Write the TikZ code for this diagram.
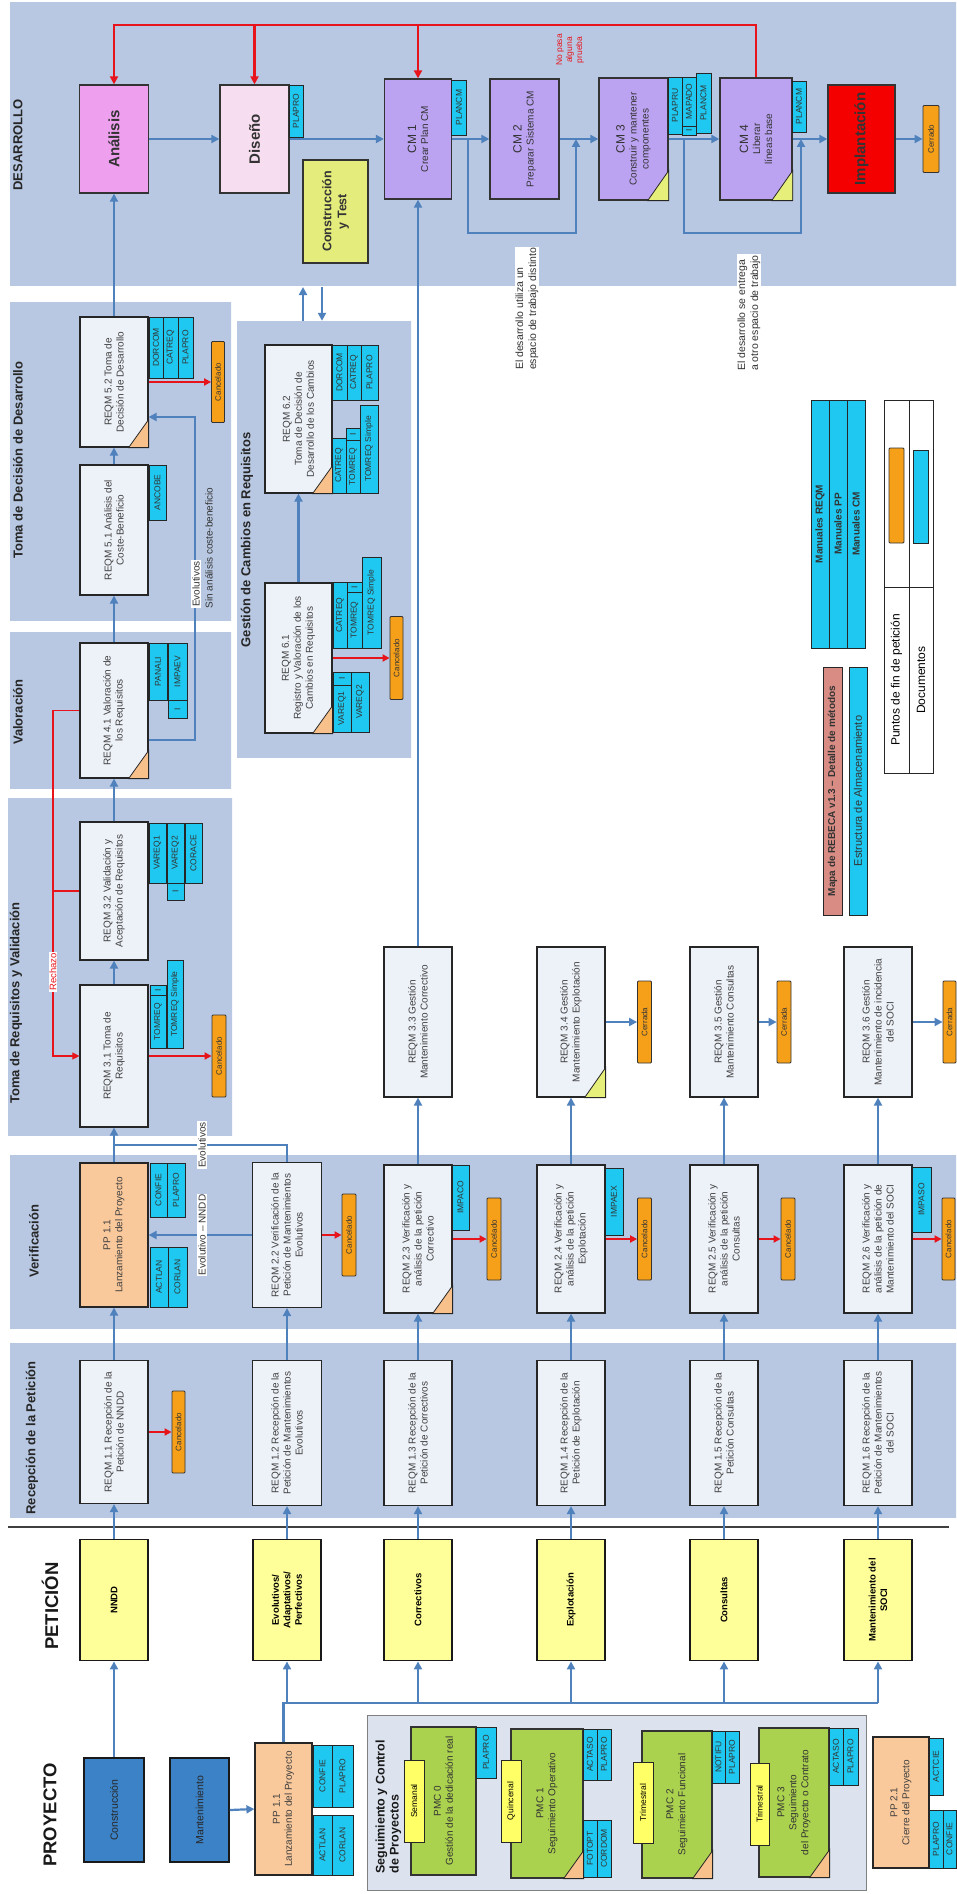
\documentclass[tikz,border=0pt]{standalone}
\usepackage{fontspec}
\setmainfont{Liberation Sans}
\usetikzlibrary{arrows.meta}

\definecolor{bandfill}{HTML}{C7D4EA}
\definecolor{bandedge}{HTML}{B8C8E2}
\definecolor{bandmid}{HTML}{D8E1F0}
\definecolor{panelfill}{HTML}{DCE3EF}
\definecolor{reqfill}{HTML}{EDF1F8}
\definecolor{doccyan}{HTML}{1EC8F0}
\definecolor{endorange}{HTML}{F6A01A}
\definecolor{flowblue}{HTML}{4F81BD}
\definecolor{redline}{HTML}{E8141C}
\definecolor{petfill}{HTML}{FFFF99}
\definecolor{tagfill}{HTML}{FFFF66}
\definecolor{anafill}{HTML}{EE9FEE}
\definecolor{disfill}{HTML}{F7DDF0}
\definecolor{ctfill}{HTML}{E4EC7C}
\definecolor{cmfill}{HTML}{BBA3F2}
\definecolor{impfill}{HTML}{F50000}
\definecolor{ppfill}{HTML}{F9C89B}
\definecolor{pmcfill}{HTML}{ABD24E}
\definecolor{trifill}{HTML}{F8C08A}
\definecolor{trilime}{HTML}{E6EF7A}
\definecolor{legsalmon}{HTML}{D98C84}
\definecolor{proyblue}{HTML}{3C82C6}

\tikzset{
  band/.style={left color=bandedge, middle color=bandmid, right color=bandedge},
  reqbox/.style={draw=black!85, line width=1.2pt, fill=reqfill, rotate=90, align=center, inner sep=1pt, text=black!75, font=\fontsize{10}{12}\selectfont},
  devbox/.style={draw=black!80, line width=1.3pt, rotate=90, align=center, inner sep=1pt, text=black!80, font=\fontsize{10}{12}\selectfont},
  yelbox/.style={draw=black!90, line width=1.8pt, fill=petfill, rotate=90, align=center, inner sep=1pt, font=\bfseries\fontsize{9.5}{11.5}\selectfont},
  proybox/.style={draw=black!90, line width=1.8pt, fill=proyblue, rotate=90, inner sep=1pt, text=black!85, font=\fontsize{10.5}{12}\selectfont},
  pmcbox/.style={draw=black!80, line width=1.2pt, fill=pmcfill, rotate=90, align=center, inner sep=1pt, text=black!80, font=\fontsize{10}{12}\selectfont},
  tagbox/.style={draw=black!85, line width=0.9pt, fill=tagfill, rotate=90, inner sep=0pt, font=\fontsize{8.5}{10}\selectfont},
  docbox/.style={draw=black!85, line width=0.8pt, fill=doccyan, rotate=90, inner sep=0pt, text=black!80, font=\fontsize{8.5}{10}\selectfont},
  endbox/.style={draw=black!80, line width=0.8pt, fill=endorange, rounded corners=1pt, rotate=90, inner sep=0pt, text=black!80, font=\fontsize{8}{9}\selectfont},
  legcell/.style={draw=black!85, line width=1pt, fill=white, rotate=90, inner sep=0pt, font=\fontsize{12}{14}\selectfont},
  lbl/.style={rotate=90, fill=white, inner sep=1pt, text=black!80, font=\fontsize{10}{12}\selectfont},
  bandlabel/.style={rotate=90, text=black!85, font=\bfseries\fontsize{13}{15}\selectfont},
  biglabel/.style={rotate=90, text=black!90, font=\bfseries\fontsize{18.5}{20}\selectfont},
  flow/.style={draw=flowblue, line width=2.2pt, -{Triangle[length=8pt,width=8pt]}},
  flowline/.style={draw=flowblue, line width=2.2pt},
  cancline/.style={draw=redline, line width=1.8pt, -{Triangle[length=7pt,width=7pt]}},
  fbline/.style={draw=redline, line width=2.2pt, -{Triangle[length=8pt,width=8pt]}},
  rejline/.style={draw=redline, line width=1.1pt},
  corner/.style={draw=black!85, line width=0.8pt}
}

\begin{document}
\begin{tikzpicture}[x=1pt, y=-1pt]
  \useasboundingbox (0,0) rectangle (956,1894);

  \shade[band] (10,3) rectangle (956,285);
  \shade[band] (10,302) rectangle (231,620);
  \shade[band] (10,632) rectangle (231,788);
  \shade[band] (8,798) rectangle (232,1135);
  \shade[band] (10,1155) rectangle (956,1328);
  \shade[band] (10,1343) rectangle (956,1517);
  \draw[line width=1.5pt, black!75] (8,1527) -- (949,1527);

  \node[bandlabel] (ldes) at (18,145) {DESARROLLO};
  \node[bandlabel] (ltdd) at (18,460) {Toma de Decisión de Desarrollo};
  \node[bandlabel] (lval) at (18,712) {Valoración};
  \node[bandlabel] (ltrv) at (16,1003) {Toma de Requisitos y Validación};
  \node[bandlabel] (lver) at (34,1241) {Verificación};
  \node[bandlabel] (lrec) at (32,1438) {Recepción de la Petición};
  \node[biglabel] (lpet) at (50,1606) {PETICIÓN};
  \node[biglabel] (lpro) at (50,1815) {PROYECTO};

  % desarrollo
  \node[devbox, fill=anafill, minimum width=108pt, minimum height=69pt, font=\bfseries\fontsize{15}{17}\selectfont] (ana) at (114,139) {Análisis};
  \node[devbox, fill=disfill, minimum width=108pt, minimum height=69pt, font=\bfseries\fontsize{15}{17}\selectfont] (dis) at (254.5,139) {Diseño};
  \node[docbox, minimum width=52pt, minimum height=14pt] (dplapro) at (296,111) {PLAPRO};
  \node[devbox, fill=ctfill, minimum width=103pt, minimum height=65pt, font=\bfseries\fontsize{12.5}{15}\selectfont] (cyt) at (335.5,211.5) {Construcción\\y Test};
  \node[devbox, fill=cmfill, minimum width=120pt, minimum height=67pt] (cm1) at (418,139) {{\fontsize{12}{14}\selectfont CM 1}\\Crear Plan CM};
  \node[docbox, minimum width=55pt, minimum height=15pt] (dplancm1) at (459,107.5) {PLANCM};
  \node[devbox, fill=cmfill, minimum width=120pt, minimum height=69pt] (cm2) at (524.5,139) {{\fontsize{12}{14}\selectfont CM 2}\\Preparar Sistema CM};
  \node[devbox, fill=cmfill, minimum width=122pt, minimum height=69pt] (cm3) at (633.5,139) {{\fontsize{12}{14}\selectfont CM 3}\\Construir y mantener\\componentes};
  \node[docbox, minimum width=57pt, minimum height=14pt] (dplapru) at (675,105.5) {PLAPRU};
  \node[docbox, minimum width=49pt, minimum height=14pt] (dmapado) at (689,101.5) {MAPADO};
  \node[docbox, minimum width=9pt, minimum height=14pt] (dmapadoi) at (689,130.5) {I};
  \node[docbox, minimum width=60pt, minimum height=15pt] (dplancm3) at (703.5,103) {PLANCM};
  \node[devbox, fill=cmfill, minimum width=122pt, minimum height=72pt] (cm4) at (756,139) {{\fontsize{12}{14}\selectfont CM 4}\\Liberar\\líneas base};
  \node[docbox, minimum width=51pt, minimum height=14pt] (dplancm4) at (799,106.5) {PLANCM};
  \node[devbox, fill=impfill, minimum width=108pt, minimum height=67pt, font=\bfseries\fontsize{15}{17}\selectfont] (imp) at (861.5,139) {Implantación};
  \node[endbox, minimum width=67pt, minimum height=16pt] (cerr0) at (931,139) {Cerrado};

  \node[lbl, align=left, font=\fontsize{10.5}{13}\selectfont] (nota1) at (527,309) {El desarrollo utiliza un\\espacio de trabajo distinto};
  \node[lbl, align=left, font=\fontsize{10.5}{13}\selectfont] (nota2) at (749,313) {El desarrollo se entrega\\a otro espacio de trabajo};
  \node[rotate=90, align=center, text=redline, font=\fontsize{8.5}{10}\selectfont] (nopasa) at (570,50) {No pasa\\alguna\\prueba};

  % gestion de cambios
  \node[rotate=90, band, minimum width=436pt, minimum height=174pt] (gcr) at (324,539) {};
  \node[bandlabel] (lgcr) at (247,540) {Gestión de Cambios en Requisitos};
  \node[reqbox, minimum width=150pt, minimum height=67pt] (r61) at (298.5,658) {REQM 6.1\\Registro y Valoración de los\\Cambios en Requisitos};
  \node[docbox, minimum width=66pt, minimum height=14pt] (d61a) at (340,615) {CATREQ};
  \node[docbox, minimum width=56pt, minimum height=15pt] (d61b) at (354.5,620) {TOMREQ};
  \node[docbox, minimum width=10pt, minimum height=15pt] (d61bi) at (354.5,587) {I};
  \node[docbox, minimum width=91pt, minimum height=19pt] (d61c) at (371.5,602.5) {TOMREQ Simple};
  \node[docbox, minimum width=47pt, minimum height=18pt] (d61d) at (342,708.5) {VAREQ1};
  \node[docbox, minimum width=13pt, minimum height=18pt] (d61di) at (342,678.5) {I};
  \node[docbox, minimum width=60pt, minimum height=18pt] (d61e) at (360,702) {VAREQ2};
  \node[endbox, minimum width=83pt, minimum height=13pt] (c61) at (396.5,658) {Cancelado};
  \node[reqbox, minimum width=148pt, minimum height=67pt] (r62) at (298.5,419) {REQM 6.2\\Toma de Decisión de\\Desarrollo de los Cambios};
  \node[docbox, minimum width=55pt, minimum height=15pt] (d62a) at (339.5,372.5) {DORCOM};
  \node[docbox, minimum width=55pt, minimum height=14pt] (d62b) at (354,372.5) {CATREQ};
  \node[docbox, minimum width=55pt, minimum height=17pt] (d62c) at (369.5,372.5) {PLAPRO};
  \node[docbox, minimum width=55pt, minimum height=14pt] (d62d) at (339,465.5) {CATREQ};
  \node[docbox, minimum width=53pt, minimum height=14pt] (d62e) at (353,466.5) {TOMREQ};
  \node[docbox, minimum width=12pt, minimum height=14pt] (d62ei) at (353,434) {I};
  \node[docbox, minimum width=88pt, minimum height=18pt] (d62f) at (369,449) {TOMREQ Simple};

  % toma de decision, valoracion, requisitos
  \node[reqbox, minimum width=130pt, minimum height=68pt] (r52) at (114,382) {REQM 5.2 Toma de\\Decisión de Desarrollo};
  \node[docbox, minimum width=61pt, minimum height=14pt] (d52a) at (156,347.5) {DORCOM};
  \node[docbox, minimum width=61pt, minimum height=15pt] (d52b) at (170.5,347.5) {CATREQ};
  \node[docbox, minimum width=61pt, minimum height=15pt] (d52c) at (185.5,347.5) {PLAPRO};
  \node[endbox, minimum width=81pt, minimum height=13pt] (c52) at (218,382) {Cancelado};
  \node[reqbox, minimum width=130pt, minimum height=68pt] (r51) at (114,530) {REQM 5.1 Análisis del\\Coste-Beneficio};
  \node[docbox, minimum width=55pt, minimum height=17pt] (d51) at (157.5,492.5) {ANCOBE};
  \node[reqbox, minimum width=135pt, minimum height=68pt] (r41) at (114,710.5) {REQM 4.1 Valoración de\\los Requisitos};
  \node[docbox, minimum width=57pt, minimum height=18pt] (d41a) at (158,671.5) {PANALI};
  \node[docbox, minimum width=57pt, minimum height=19pt] (d41b) at (177.5,671.5) {IMPAEV};
  \node[docbox, minimum width=18pt, minimum height=19pt] (d41bi) at (177.5,709) {I};
  \node[reqbox, minimum width=138pt, minimum height=68pt] (r32) at (114,891) {REQM 3.2 Validación y\\Aceptación de Requisitos};
  \node[docbox, minimum width=60pt, minimum height=17pt] (d32a) at (157.5,853) {VAREQ1};
  \node[docbox, minimum width=60pt, minimum height=17pt] (d32b) at (175.5,853) {VAREQ2};
  \node[docbox, minimum width=60pt, minimum height=17pt] (d32c) at (193.5,853) {CORACE};
  \node[docbox, minimum width=17pt, minimum height=17pt] (d32bi) at (175.5,891.5) {I};
  \node[reqbox, minimum width=142pt, minimum height=68pt] (r31) at (114,1056) {REQM 3.1 Toma de\\Requisitos};
  \node[docbox, minimum width=53pt, minimum height=16pt] (d31a) at (158,1021.5) {TOMREQ};
  \node[docbox, minimum width=10pt, minimum height=16pt] (d31ai) at (158,990) {I};
  \node[docbox, minimum width=88pt, minimum height=16pt] (d31b) at (175,1004) {TOMREQ Simple};
  \node[endbox, minimum width=82pt, minimum height=14pt] (c31) at (219,1056) {Cancelado};

  % gestion del mantenimiento
  \node[reqbox, minimum width=150pt, minimum height=68pt] (r33) at (418,1022) {REQM 3.3 Gestión\\Mantenimiento Correctivo};
  \node[reqbox, minimum width=150pt, minimum height=68pt] (r34) at (571,1022) {REQM 3.4 Gestión\\Mantenimiento Explotación};
  \node[reqbox, minimum width=150pt, minimum height=68pt] (r35) at (724,1022) {REQM 3.5 Gestión\\Mantenimiento Consultas};
  \node[reqbox, minimum width=150pt, minimum height=68pt] (r36) at (878,1022) {REQM 3.6 Gestión\\Mantenimiento de incidencia\\del SOCI};
  \node[endbox, minimum width=82pt, minimum height=14pt] (c34) at (644.5,1022) {Cerrada};
  \node[endbox, minimum width=82pt, minimum height=14pt] (c35) at (784,1022) {Cerrada};
  \node[endbox, minimum width=82pt, minimum height=13pt] (c36) at (949.5,1022) {Cerrada};

  % verificacion
  \node[reqbox, fill=ppfill, minimum width=144pt, minimum height=68pt] (pp1a) at (114,1235) {PP 1.1\\Lanzamiento del Proyecto};
  \node[docbox, minimum width=54pt, minimum height=17pt] (dconfa) at (158.5,1190) {CONFIE};
  \node[docbox, minimum width=54pt, minimum height=18pt] (dplapa) at (176,1190) {PLAPRO};
  \node[docbox, minimum width=60pt, minimum height=18pt] (dactla) at (159,1277) {ACTLAN};
  \node[docbox, minimum width=60pt, minimum height=19pt] (dcorla) at (177.5,1277) {CORLAN};
  \node[reqbox, minimum width=145pt, minimum height=69pt] (r22) at (287,1235) {REQM 2.2 Verificación de la\\Petición de Mantenimientos\\Evolutivos};
  \node[reqbox, minimum width=148pt, minimum height=68pt] (r23) at (418,1239) {REQM 2.3 Verificación y\\análisis de la petición\\Correctivo};
  \node[reqbox, minimum width=148pt, minimum height=68pt] (r24) at (571,1239) {REQM 2.4 Verificación y\\análisis de la petición\\Explotación};
  \node[reqbox, minimum width=148pt, minimum height=68pt] (r25) at (724,1239) {REQM 2.5 Verificación y\\análisis de la petición\\Consultas};
  \node[reqbox, minimum width=148pt, minimum height=68pt] (r26) at (878,1239) {REQM 2.6 Verificación y\\análisis de la petición de\\Mantenimiento del SOCI};
  \node[docbox, minimum width=65pt, minimum height=17pt] (dimpaco) at (460.5,1197.5) {IMPACO};
  \node[docbox, minimum width=67pt, minimum height=18pt] (dimpaex) at (614,1201.5) {IMPAEX};
  \node[docbox, minimum width=65pt, minimum height=19pt] (dimpaso) at (921.5,1199.5) {IMPASO};
  \node[endbox, minimum width=82pt, minimum height=14pt] (c22) at (349,1235) {Cancelado};
  \node[endbox, minimum width=82pt, minimum height=14pt] (c23) at (494,1239) {Cancelado};
  \node[endbox, minimum width=82pt, minimum height=14pt] (c24) at (644.5,1239) {Cancelado};
  \node[endbox, minimum width=82pt, minimum height=14pt] (c25) at (788,1239) {Cancelado};
  \node[endbox, minimum width=82pt, minimum height=13pt] (c26) at (948.5,1239) {Cancelado};

  % recepcion
  \node[reqbox, minimum width=143pt, minimum height=68pt] (r11) at (114,1432) {REQM 1.1 Recepción de la\\Petición de NNDD};
  \node[endbox, minimum width=82pt, minimum height=13pt] (c11) at (178.5,1432) {Cancelado};
  \node[reqbox, minimum width=145pt, minimum height=69pt] (r12) at (287,1433) {REQM 1.2 Recepción de la\\Petición de Mantenimientos\\Evolutivos};
  \node[reqbox, minimum width=145pt, minimum height=68pt] (r13) at (418,1433) {REQM 1.3 Recepción de la\\Petición de Correctivos};
  \node[reqbox, minimum width=145pt, minimum height=68pt] (r14) at (571,1433) {REQM 1.4 Recepción de la\\Petición de Explotación};
  \node[reqbox, minimum width=145pt, minimum height=68pt] (r15) at (724,1433) {REQM 1.5 Recepción de la\\Petición Consultas};
  \node[reqbox, minimum width=145pt, minimum height=68pt] (r16) at (878,1433) {REQM 1.6 Recepción de la\\Petición de Mantenimientos\\del SOCI};

  % peticion
  \node[yelbox, minimum width=121pt, minimum height=68pt] (nndd) at (114,1600) {NNDD};
  \node[yelbox, minimum width=121pt, minimum height=68pt] (yevo) at (287,1600) {Evolutivos/\\Adaptativos/\\Perfectivos};
  \node[yelbox, minimum width=121pt, minimum height=68pt] (ycor) at (418,1600) {Correctivos};
  \node[yelbox, minimum width=121pt, minimum height=68pt] (yexp) at (571,1600) {Explotación};
  \node[yelbox, minimum width=121pt, minimum height=68pt] (ycon) at (724,1600) {Consultas};
  \node[yelbox, minimum width=121pt, minimum height=68pt] (ysoci) at (878,1600) {Mantenimiento del\\SOCI};

  % proyecto
  \node[proybox, minimum width=104pt, minimum height=60pt] (con) at (114,1810) {Construcción};
  \node[proybox, minimum width=104pt, minimum height=59pt] (man) at (199.5,1810) {Mantenimiento};
  \node[reqbox, fill=ppfill, minimum width=132pt, minimum height=57pt] (pp1b) at (283.5,1809) {PP 1.1\\Lanzamiento del Proyecto};
  \node[docbox, minimum width=62pt, minimum height=19pt] (dconfb) at (322.5,1776) {CONFIE};
  \node[docbox, minimum width=62pt, minimum height=21pt] (dplapb) at (342.5,1776) {PLAPRO};
  \node[docbox, minimum width=60pt, minimum height=19pt] (dactlb) at (322.5,1845) {ACTLAN};
  \node[docbox, minimum width=60pt, minimum height=21pt] (dcorlb) at (342.5,1845) {CORLAN};

  \node[rotate=90, draw=black!50, line width=1pt, fill=panelfill, minimum width=175pt, minimum height=499pt] (sgc) at (616.5,1802.5) {};
  \node[rotate=90, anchor=north west, align=left, text=black!90, font=\bfseries\fontsize{12.5}{14}\selectfont] (lsgc) at (372,1877) {Seguimiento y Control\\de Proyectos};
  \node[pmcbox, minimum width=148pt, minimum height=65pt] (pmc0) at (443.5,1801) {PMC 0\\Gestión de la dedicación real};
  \node[docbox, minimum width=51pt, minimum height=20pt] (dplap0) at (486,1752.5) {PLAPRO};
  \node[pmcbox, minimum width=149pt, minimum height=72pt] (pmc1) at (547,1803.5) {PMC 1\\Seguimiento Operativo};
  \node[docbox, minimum width=51pt, minimum height=14pt] (dacta1) at (590,1754.5) {ACTASO};
  \node[docbox, minimum width=51pt, minimum height=14pt] (dplap1) at (604,1754.5) {PLAPRO};
  \node[docbox, minimum width=57pt, minimum height=14pt] (dfoto1) at (590,1848.5) {FOTOPT};
  \node[docbox, minimum width=57pt, minimum height=14pt] (dcord1) at (604,1848.5) {CORDOM};
  \node[pmcbox, minimum width=147pt, minimum height=70pt] (pmc2) at (677,1804.5) {PMC 2\\Seguimiento Funcional};
  \node[docbox, minimum width=52pt, minimum height=13pt] (dnoti2) at (718.5,1757) {NOTIFU};
  \node[docbox, minimum width=52pt, minimum height=14pt] (dplap2) at (732,1757) {PLAPRO};
  \node[pmcbox, minimum width=149pt, minimum height=70pt] (pmc3) at (794,1802.5) {PMC 3\\Seguimiento\\del Proyecto o Contrato};
  \node[docbox, minimum width=57pt, minimum height=14pt] (dacta3) at (836,1756.5) {ACTASO};
  \node[docbox, minimum width=57pt, minimum height=15pt] (dplap3) at (850.5,1756.5) {PLAPRO};
  \node[tagbox, minimum width=82pt, minimum height=20pt] (tsem) at (414,1801) {Semanal};
  \node[tagbox, minimum width=82pt, minimum height=20pt] (tquin) at (511,1801) {Quincenal};
  \node[tagbox, minimum width=81pt, minimum height=20pt] (ttri2) at (643,1802.5) {Trimestral};
  \node[tagbox, minimum width=82pt, minimum height=19pt] (ttri3) at (759.5,1804) {Trimestral};
  \node[reqbox, fill=ppfill, minimum width=131pt, minimum height=56pt] (pp21) at (901,1802.5) {PP 2.1\\Cierre del Proyecto};
  \node[docbox, minimum width=57pt, minimum height=14pt] (dactc) at (936,1766.5) {ACTCIE};
  \node[docbox, minimum width=58pt, minimum height=14pt] (dplap21) at (936,1839) {PLAPRO};
  \node[docbox, minimum width=58pt, minimum height=13pt] (dconf21) at (949.5,1839) {CONFIE};

  % leyenda
  \node[docbox, fill=legsalmon, minimum width=248pt, minimum height=19pt, font=\bfseries\fontsize{10}{12}\selectfont] (lmapa) at (832.5,791) {Mapa de REBECA v1.3 -- Detalle de métodos};
  \node[docbox, minimum width=248pt, minimum height=18pt, font=\fontsize{11}{13}\selectfont] (lestr) at (858,791) {Estructura de Almacenamiento};
  \node[docbox, minimum width=248pt, minimum height=18pt, font=\bfseries\fontsize{10}{12}\selectfont] (lman1) at (820,524) {Manuales REQM};
  \node[docbox, minimum width=248pt, minimum height=18pt, font=\bfseries\fontsize{10}{12}\selectfont] (lman2) at (838,524) {Manuales PP};
  \node[docbox, minimum width=248pt, minimum height=18pt, font=\bfseries\fontsize{10}{12}\selectfont] (lman3) at (856,524) {Manuales CM};
  \node[legcell, minimum width=186pt, minimum height=25pt] (lt1) at (896.5,680) {Puntos de fin de petición};
  \node[legcell, minimum width=187pt, minimum height=25pt] (lt2) at (896.5,493.5) {};
  \node[legcell, minimum width=186pt, minimum height=24pt] (lt3) at (921,680) {Documentos};
  \node[legcell, minimum width=187pt, minimum height=24pt] (lt4) at (921,493.5) {};
  \node[endbox, minimum width=95pt, minimum height=15pt] (lsw1) at (896.5,495.5) {};
  \node[docbox, minimum width=93pt, minimum height=15pt] (lsw2) at (920.5,496.5) {};

  \foreach \n in {r23,r41,r52,r61,r62,pmc1,pmc2,pmc3}
    \filldraw[corner, fill=trifill] (\n.south west) -- ++(0,-28) -- ++(-20,28) -- cycle;
  \foreach \n in {r34,cm3,cm4}
    \filldraw[corner, fill=trilime] (\n.south west) -- ++(0,-30) -- ++(-21,30) -- cycle;

  % conectores
  \draw[flow] (con.east) -- (nndd.west);
  \draw[flow] (man.south) -- (pp1b.north);
  \coordinate (bus) at (283.5,1703);
  \draw[flowline] (pp1b.east) -- (bus) -- (bus -| ysoci.west);
  \foreach \n in {yevo,ycor,yexp,ycon,ysoci}
    \draw[flow] (bus -| \n.west) -- (\n.west);

  \draw[flow] (nndd.east) -- (r11.west);
  \draw[flow] (yevo.east) -- (r12.west);
  \draw[flow] (ycor.east) -- (r13.west);
  \draw[flow] (yexp.east) -- (r14.west);
  \draw[flow] (ycon.east) -- (r15.west);
  \draw[flow] (ysoci.east) -- (r16.west);
  \draw[flow] (r11.east) -- (pp1a.west);
  \draw[flow] (r12.east) -- (r22.west);
  \draw[flow] (r13.east) -- (r23.west);
  \draw[flow] (r14.east) -- (r24.west);
  \draw[flow] (r15.east) -- (r25.west);
  \draw[flow] (r16.east) -- (r26.west);
  \draw[flow] (r23.east) -- (r33.west);
  \draw[flow] (r24.east) -- (r34.west);
  \draw[flow] (r25.east) -- (r35.west);
  \draw[flow] (r26.east) -- (r36.west);
  \draw[flow] (r34.south) -- (c34.north);
  \draw[flow] (r35.south) -- (c35.north);
  \draw[flow] (r36.south) -- (c36.north);
  \draw[flow] (r33.east) -- (cm1.west);

  \draw[cancline] (r11.south) -- (c11.north);
  \draw[cancline] (r22.south) -- (c22.north);
  \draw[cancline] (r23.south) -- (c23.north);
  \draw[cancline] (r24.south) -- (c24.north);
  \draw[cancline] (r25.south) -- (c25.north);
  \draw[cancline] (r26.south) -- (c26.north);
  \draw[cancline] (r31.south) -- (c31.north);
  \draw[cancline] (r52.south) -- (c52.north);
  \draw[cancline] (r61.south) -- (c61.north);

  \draw[flow] (pp1a.east) -- (r31.west);
  \coordinate (evo) at (114,1145);
  \draw[flowline] (r22.east) |- (evo);
  \draw[flow] (r22.north) -- (pp1a.south);
  \node[lbl] (levo1) at (202,1145) {Evolutivos};
  \node[lbl] (levo2) at (202,1235) {Evolutivo -- NNDD};
  \draw[flow] (r31.east) -- (r32.west);
  \draw[flow] (r32.east) -- (r41.west);
  \draw[flow] (r41.east) -- (r51.west);
  \draw[flow] (r51.east) -- (r52.west);
  \draw[flow] (r52.east) -- (ana.west);
  \coordinate (sa1) at (195,740);
  \coordinate (sa2) at (195,417);
  \draw[flow] (r41.south |- sa1) -- (sa1) -- (sa2) -- (sa2 -| r52.south);
  \node[lbl] (levo3) at (196,584) {Evolutivos};
  \node[rotate=90, text=black!80, font=\fontsize{10}{12}\selectfont] (lsin) at (209,548) {Sin análisis coste-beneficio};

  \coordinate (rz) at (53,1056);
  \draw[rejline, -{Triangle[length=7pt,width=7pt]}] (r41.north) -| (rz) -- (r31.north);
  \draw[rejline] (r32.north) -- (r32.north -| rz);
  \node[rotate=90, fill=white, inner sep=1pt, text=redline, font=\fontsize{9.5}{11}\selectfont] (lrech) at (53,972) {Rechazo};

  \draw[flow] (r61.east) -- (r62.west);
  \coordinate (cta) at (303,287);
  \coordinate (ctb) at (322,287);
  \draw[flow] (cta |- gcr.east) -- (cta);
  \draw[flow] (ctb) -- (ctb |- gcr.east);

  \draw[flow] (ana.south) -- (dis.north);
  \draw[flow] (dis.south) -- (cm1.north);
  \draw[flow] (cm1.south) -- (cm2.north);
  \draw[flow] (cm2.south) -- (cm3.north);
  \draw[flow] (cm3.south) -- (cm4.north);
  \draw[flow] (cm4.south) -- (imp.north);
  \draw[flow] (imp.south) -- (cerr0.north);
  \coordinate (ws1) at (468,233);
  \coordinate (ws2) at (576,233);
  \coordinate (ws3) at (684,233);
  \coordinate (ws4) at (801,233);
  \draw[flow] (cm1.south -| ws1) -- (ws1) -- (ws2) -- (ws2 |- cm2.south);
  \draw[flow] (cm3.south -| ws3) -- (ws3) -- (ws4) -- (ws4 |- cm4.south);

  \coordinate (rtop) at (756,25);
  \draw[fbline] (cm4.east) -- (rtop) -| (ana.east);
  \draw[fbline] (rtop -| dis.east) -- (dis.east);
  \draw[fbline] (rtop -| cm1.east) -- (cm1.east);
\end{tikzpicture}
\end{document}
